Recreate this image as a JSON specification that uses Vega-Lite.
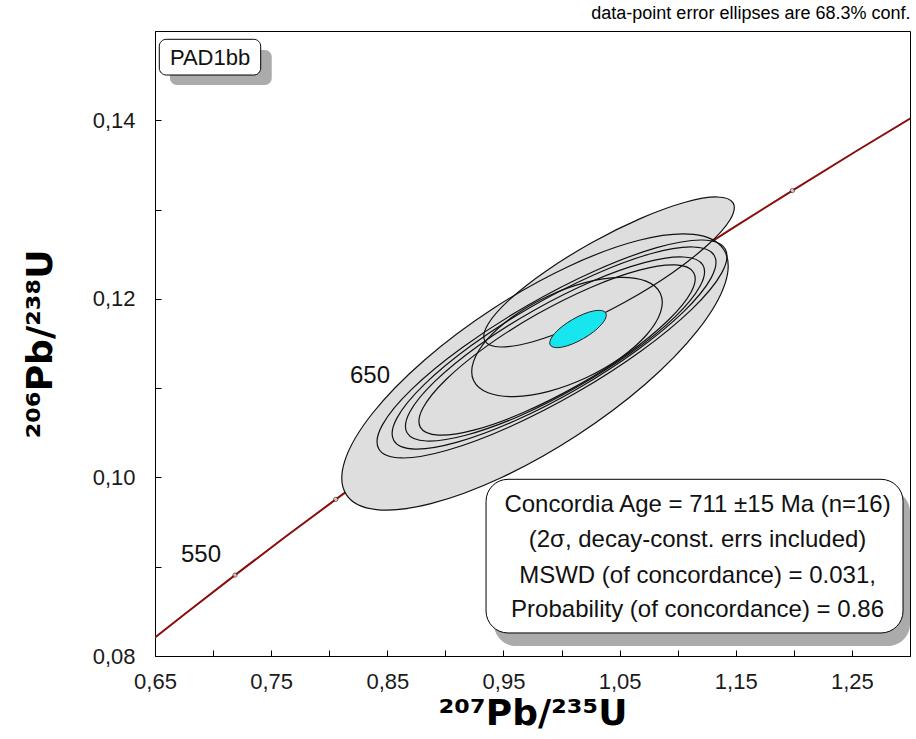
{
  "$schema": "https://vega.github.io/schema/vega-lite/v6.json",
  "width": 755,
  "height": 625,
  "autosize": {"type": "none"},
  "padding": {"left": 155, "top": 31, "right": 6, "bottom": 83},
  "background": "white",
  "title": {"text": "data-point error ellipses are 68.3% conf.", "anchor": "end", "fontSize": 18, "font": "Liberation Sans", "fontWeight": "normal", "color": "black", "offset": 8},
  "config": {
    "view": {"stroke": "black", "strokeWidth": 1},
    "axis": {"grid": false, "domainColor": "black", "tickColor": "black", "labelFont": "Liberation Sans", "labelFontSize": 22, "labelColor": "#1a1a1a", "titleFont": "DejaVu Sans", "titleFontSize": 36, "titleFontWeight": "bold", "titleColor": "black"}
  },
  "datasets": {
    "concordia": [
      {"age": 500, "x": 0.63628, "y": 0.08065},
      {"age": 525, "x": 0.67707, "y": 0.08485},
      {"age": 550, "x": 0.71887, "y": 0.08906},
      {"age": 575, "x": 0.76172, "y": 0.09330},
      {"age": 600, "x": 0.80563, "y": 0.09754},
      {"age": 625, "x": 0.85064, "y": 0.10181},
      {"age": 650, "x": 0.89677, "y": 0.10609},
      {"age": 675, "x": 0.94406, "y": 0.11039},
      {"age": 700, "x": 0.99251, "y": 0.11470},
      {"age": 725, "x": 1.04219, "y": 0.11903},
      {"age": 750, "x": 1.09308, "y": 0.12338},
      {"age": 775, "x": 1.14525, "y": 0.12775},
      {"age": 800, "x": 1.19873, "y": 0.13213},
      {"age": 825, "x": 1.25353, "y": 0.13653},
      {"age": 850, "x": 1.30972, "y": 0.14094}
    ],
    "agelabels": [
      {"lab": "550", "x": 0.6896, "y": 0.09131},
      {"lab": "650", "x": 0.8351, "y": 0.11136}
    ],
    "ellipses": [
      {"id": "E1", "k": 0, "x": 1.1396, "y": 0.12553},
      {"id": "E1", "k": 1, "x": 1.1409, "y": 0.12176},
      {"id": "E1", "k": 2, "x": 1.1172, "y": 0.11646},
      {"id": "E1", "k": 3, "x": 1.0723, "y": 0.11046},
      {"id": "E1", "k": 4, "x": 1.0128, "y": 0.10467},
      {"id": "E1", "k": 5, "x": 0.9479, "y": 0.09996},
      {"id": "E1", "k": 6, "x": 0.8875, "y": 0.09706},
      {"id": "E1", "k": 7, "x": 0.8407, "y": 0.09640},
      {"id": "E1", "k": 8, "x": 0.8147, "y": 0.09808},
      {"id": "E1", "k": 9, "x": 0.8134, "y": 0.10186},
      {"id": "E1", "k": 10, "x": 0.8371, "y": 0.10716},
      {"id": "E1", "k": 11, "x": 0.8821, "y": 0.11316},
      {"id": "E1", "k": 12, "x": 0.9415, "y": 0.11895},
      {"id": "E1", "k": 13, "x": 1.0064, "y": 0.12366},
      {"id": "E1", "k": 14, "x": 1.0668, "y": 0.12656},
      {"id": "E1", "k": 15, "x": 1.1136, "y": 0.12722},
      {"id": "N1", "k": 0, "x": 1.1409, "y": 0.12558},
      {"id": "N1", "k": 1, "x": 1.1378, "y": 0.12288},
      {"id": "N1", "k": 2, "x": 1.1125, "y": 0.11888},
      {"id": "N1", "k": 3, "x": 1.0688, "y": 0.11419},
      {"id": "N1", "k": 4, "x": 1.0133, "y": 0.10953},
      {"id": "N1", "k": 5, "x": 0.9546, "y": 0.10562},
      {"id": "N1", "k": 6, "x": 0.9016, "y": 0.10304},
      {"id": "N1", "k": 7, "x": 0.8623, "y": 0.10218},
      {"id": "N1", "k": 8, "x": 0.8427, "y": 0.10318},
      {"id": "N1", "k": 9, "x": 0.8458, "y": 0.10589},
      {"id": "N1", "k": 10, "x": 0.8711, "y": 0.10989},
      {"id": "N1", "k": 11, "x": 0.9149, "y": 0.11458},
      {"id": "N1", "k": 12, "x": 0.9703, "y": 0.11923},
      {"id": "N1", "k": 13, "x": 1.0290, "y": 0.12315},
      {"id": "N1", "k": 14, "x": 1.0820, "y": 0.12573},
      {"id": "N1", "k": 15, "x": 1.1213, "y": 0.12659},
      {"id": "N2", "k": 0, "x": 1.1315, "y": 0.12486},
      {"id": "N2", "k": 1, "x": 1.1287, "y": 0.12232},
      {"id": "N2", "k": 2, "x": 1.1054, "y": 0.11860},
      {"id": "N2", "k": 3, "x": 1.0650, "y": 0.11425},
      {"id": "N2", "k": 4, "x": 1.0138, "y": 0.10994},
      {"id": "N2", "k": 5, "x": 0.9594, "y": 0.10632},
      {"id": "N2", "k": 6, "x": 0.9103, "y": 0.10395},
      {"id": "N2", "k": 7, "x": 0.8738, "y": 0.10318},
      {"id": "N2", "k": 8, "x": 0.8556, "y": 0.10414},
      {"id": "N2", "k": 9, "x": 0.8584, "y": 0.10667},
      {"id": "N2", "k": 10, "x": 0.8817, "y": 0.11039},
      {"id": "N2", "k": 11, "x": 0.9220, "y": 0.11474},
      {"id": "N2", "k": 12, "x": 0.9733, "y": 0.11906},
      {"id": "N2", "k": 13, "x": 1.0276, "y": 0.12267},
      {"id": "N2", "k": 14, "x": 1.0767, "y": 0.12505},
      {"id": "N2", "k": 15, "x": 1.1132, "y": 0.12581},
      {"id": "N3", "k": 0, "x": 1.1218, "y": 0.12376},
      {"id": "N3", "k": 1, "x": 1.1192, "y": 0.12141},
      {"id": "N3", "k": 2, "x": 1.0977, "y": 0.11798},
      {"id": "N3", "k": 3, "x": 1.0604, "y": 0.11401},
      {"id": "N3", "k": 4, "x": 1.0130, "y": 0.11010},
      {"id": "N3", "k": 5, "x": 0.9629, "y": 0.10683},
      {"id": "N3", "k": 6, "x": 0.9175, "y": 0.10472},
      {"id": "N3", "k": 7, "x": 0.8838, "y": 0.10408},
      {"id": "N3", "k": 8, "x": 0.8670, "y": 0.10501},
      {"id": "N3", "k": 9, "x": 0.8695, "y": 0.10736},
      {"id": "N3", "k": 10, "x": 0.8911, "y": 0.11079},
      {"id": "N3", "k": 11, "x": 0.9284, "y": 0.11476},
      {"id": "N3", "k": 12, "x": 0.9757, "y": 0.11867},
      {"id": "N3", "k": 13, "x": 1.0259, "y": 0.12194},
      {"id": "N3", "k": 14, "x": 1.0713, "y": 0.12405},
      {"id": "N3", "k": 15, "x": 1.1049, "y": 0.12469},
      {"id": "N4", "k": 0, "x": 1.1138, "y": 0.12293},
      {"id": "N4", "k": 1, "x": 1.1115, "y": 0.12074},
      {"id": "N4", "k": 2, "x": 1.0916, "y": 0.11757},
      {"id": "N4", "k": 3, "x": 1.0572, "y": 0.11389},
      {"id": "N4", "k": 4, "x": 1.0135, "y": 0.11028},
      {"id": "N4", "k": 5, "x": 0.9671, "y": 0.10727},
      {"id": "N4", "k": 6, "x": 0.9252, "y": 0.10532},
      {"id": "N4", "k": 7, "x": 0.8941, "y": 0.10474},
      {"id": "N4", "k": 8, "x": 0.8785, "y": 0.10561},
      {"id": "N4", "k": 9, "x": 0.8808, "y": 0.10780},
      {"id": "N4", "k": 10, "x": 0.9006, "y": 0.11097},
      {"id": "N4", "k": 11, "x": 0.9350, "y": 0.11465},
      {"id": "N4", "k": 12, "x": 0.9787, "y": 0.11827},
      {"id": "N4", "k": 13, "x": 1.0251, "y": 0.12128},
      {"id": "N4", "k": 14, "x": 1.0670, "y": 0.12322},
      {"id": "N4", "k": 15, "x": 1.0982, "y": 0.12380},
      {"id": "T", "k": 0, "x": 1.1478, "y": 0.13072},
      {"id": "T", "k": 1, "x": 1.1451, "y": 0.12886},
      {"id": "T", "k": 2, "x": 1.1265, "y": 0.12611},
      {"id": "T", "k": 3, "x": 1.0949, "y": 0.12288},
      {"id": "T", "k": 4, "x": 1.0551, "y": 0.11968},
      {"id": "T", "k": 5, "x": 1.0131, "y": 0.11698},
      {"id": "T", "k": 6, "x": 0.9753, "y": 0.11520},
      {"id": "T", "k": 7, "x": 0.9475, "y": 0.11461},
      {"id": "T", "k": 8, "x": 0.9340, "y": 0.11530},
      {"id": "T", "k": 9, "x": 0.9367, "y": 0.11716},
      {"id": "T", "k": 10, "x": 0.9552, "y": 0.11991},
      {"id": "T", "k": 11, "x": 0.9868, "y": 0.12313},
      {"id": "T", "k": 12, "x": 1.0267, "y": 0.12634},
      {"id": "T", "k": 13, "x": 1.0687, "y": 0.12904},
      {"id": "T", "k": 14, "x": 1.1064, "y": 0.13082},
      {"id": "T", "k": 15, "x": 1.1342, "y": 0.13141},
      {"id": "C", "k": 0, "x": 1.0851, "y": 0.12060},
      {"id": "C", "k": 1, "x": 1.0852, "y": 0.11848},
      {"id": "C", "k": 2, "x": 1.0731, "y": 0.11595},
      {"id": "C", "k": 3, "x": 1.0506, "y": 0.11337},
      {"id": "C", "k": 4, "x": 1.0211, "y": 0.11116},
      {"id": "C", "k": 5, "x": 0.9891, "y": 0.10964},
      {"id": "C", "k": 6, "x": 0.9595, "y": 0.10905},
      {"id": "C", "k": 7, "x": 0.9367, "y": 0.10948},
      {"id": "C", "k": 8, "x": 0.9243, "y": 0.11085},
      {"id": "C", "k": 9, "x": 0.9242, "y": 0.11297},
      {"id": "C", "k": 10, "x": 0.9363, "y": 0.11551},
      {"id": "C", "k": 11, "x": 0.9588, "y": 0.11808},
      {"id": "C", "k": 12, "x": 0.9883, "y": 0.12030},
      {"id": "C", "k": 13, "x": 1.0203, "y": 0.12181},
      {"id": "C", "k": 14, "x": 1.0500, "y": 0.12240},
      {"id": "C", "k": 15, "x": 1.0727, "y": 0.12198}
    ],
    "agefit": [
      {"k": 0, "x": 1.03804, "y": 0.11842},
      {"k": 1, "x": 1.03804, "y": 0.11787},
      {"k": 2, "x": 1.03440, "y": 0.11714},
      {"k": 3, "x": 1.02769, "y": 0.11632},
      {"k": 4, "x": 1.01892, "y": 0.11556},
      {"k": 5, "x": 1.00942, "y": 0.11495},
      {"k": 6, "x": 1.00066, "y": 0.11460},
      {"k": 7, "x": 0.99395, "y": 0.11456},
      {"k": 8, "x": 0.99032, "y": 0.11483},
      {"k": 9, "x": 0.99032, "y": 0.11537},
      {"k": 10, "x": 0.99396, "y": 0.11611},
      {"k": 11, "x": 1.00067, "y": 0.11692},
      {"k": 12, "x": 1.00944, "y": 0.11769},
      {"k": 13, "x": 1.01894, "y": 0.11830},
      {"k": 14, "x": 1.02770, "y": 0.11865},
      {"k": 15, "x": 1.03441, "y": 0.11869}
    ],
    "samplebox": [
      {"name": "PAD1bb", "x": 0.6537, "x2": 0.7410, "y": 0.14907, "y2": 0.14507, "sx": 0.6629, "sx2": 0.7505, "sy": 0.14787, "sy2": 0.14395, "tx": 0.6974, "ty": 0.14698}
    ],
    "statsbox": [
      {"x": 0.9350, "x2": 1.2940, "y": 0.09979, "y2": 0.08258, "sx": 0.9419, "sx2": 1.3000, "sy": 0.09859, "sy2": 0.08112}
    ],
    "stats": [
      {"line": "Concordia Age = 711 ±15 Ma (n=16)", "x": 1.1171, "y": 0.09616},
      {"line": "(2σ, decay-const. errs included)", "x": 1.1171, "y": 0.09221},
      {"line": "MSWD (of concordance) = 0.031,", "x": 1.1171, "y": 0.08823},
      {"line": "Probability (of concordance) = 0.86", "x": 1.1171, "y": 0.08437}
    ]
  },
  "layer": [
    {
      "data": {"name": "concordia"},
      "mark": {"type": "line", "color": "#8a0d0d", "strokeWidth": 2, "clip": true},
      "encoding": {
        "x": {"field": "x", "type": "quantitative", "scale": {"domain": [0.65, 1.3], "nice": false, "zero": false},
          "axis": {"title": "²⁰⁷Pb/²³⁵U", "values": [0.65, 0.7, 0.75, 0.8, 0.85, 0.9, 0.95, 1.0, 1.05, 1.1, 1.15, 1.2, 1.25, 1.3],
            "labelExpr": "round(datum.value*100)%10==5 ? replace(format(datum.value,'.2f'),'.',',') : ''",
            "tickSize": -6, "labelPadding": 21, "labelFlush": false, "titlePadding": 4}},
        "y": {"field": "y", "type": "quantitative", "scale": {"domain": [0.08, 0.15], "nice": false, "zero": false},
          "axis": {"title": "²⁰⁶Pb/²³⁸U", "values": [0.08, 0.09, 0.1, 0.11, 0.12, 0.13, 0.14, 0.15],
            "labelExpr": "round(datum.value*100)%2==0 && datum.value < 0.145 ? replace(format(datum.value,'.2f'),'.',',') : ''",
            "tickSize": -6, "labelPadding": 26, "labelFlush": false, "titlePadding": 33}},
        "order": {"field": "age", "type": "quantitative"}
      }
    },
    {
      "data": {"name": "concordia"},
      "transform": [{"filter": "datum.age % 50 == 0 && datum.age >= 550 && datum.age <= 800"}],
      "mark": {"type": "point", "shape": "circle", "size": 18, "filled": true, "fill": "white", "stroke": "#222", "strokeWidth": 1},
      "encoding": {"x": {"field": "x", "type": "quantitative"}, "y": {"field": "y", "type": "quantitative"}}
    },
    {
      "data": {"name": "agelabels"},
      "mark": {"type": "text", "font": "Liberation Sans", "fontSize": 24, "color": "#111", "align": "center", "baseline": "middle"},
      "encoding": {"x": {"field": "x", "type": "quantitative"}, "y": {"field": "y", "type": "quantitative"}, "text": {"field": "lab"}}
    },
    {
      "data": {"name": "ellipses"},
      "mark": {"type": "line", "interpolate": "cardinal-closed", "fill": "#dedede", "strokeWidth": 0, "strokeOpacity": 0},
      "encoding": {"x": {"field": "x", "type": "quantitative"}, "y": {"field": "y", "type": "quantitative"}, "detail": {"field": "id"}, "order": {"field": "k", "type": "quantitative"}}
    },
    {
      "data": {"name": "ellipses"},
      "mark": {"type": "line", "interpolate": "cardinal-closed", "color": "#111", "strokeWidth": 1.2},
      "encoding": {"x": {"field": "x", "type": "quantitative"}, "y": {"field": "y", "type": "quantitative"}, "detail": {"field": "id"}, "order": {"field": "k", "type": "quantitative"}}
    },
    {
      "data": {"name": "agefit"},
      "mark": {"type": "line", "interpolate": "cardinal-closed", "fill": "#18e6ee", "color": "#222", "strokeWidth": 1},
      "encoding": {"x": {"field": "x", "type": "quantitative"}, "y": {"field": "y", "type": "quantitative"}, "order": {"field": "k", "type": "quantitative"}}
    },
    {
      "data": {"name": "samplebox"},
      "mark": {"type": "rect", "fill": "#ababab", "cornerRadius": 7},
      "encoding": {"x": {"field": "sx", "type": "quantitative"}, "x2": {"field": "sx2"}, "y": {"field": "sy", "type": "quantitative"}, "y2": {"field": "sy2"}}
    },
    {
      "data": {"name": "samplebox"},
      "mark": {"type": "rect", "fill": "white", "stroke": "black", "strokeWidth": 1, "cornerRadius": 7},
      "encoding": {"x": {"field": "x", "type": "quantitative"}, "x2": {"field": "x2"}, "y": {"field": "y", "type": "quantitative"}, "y2": {"field": "y2"}}
    },
    {
      "data": {"name": "samplebox"},
      "mark": {"type": "text", "font": "Liberation Sans", "fontSize": 22, "color": "#111", "align": "center", "baseline": "middle"},
      "encoding": {"x": {"field": "tx", "type": "quantitative"}, "y": {"field": "ty", "type": "quantitative"}, "text": {"field": "name"}}
    },
    {
      "data": {"name": "statsbox"},
      "mark": {"type": "rect", "fill": "#ababab", "cornerRadius": 22, "clip": true},
      "encoding": {"x": {"field": "sx", "type": "quantitative"}, "x2": {"field": "sx2"}, "y": {"field": "sy", "type": "quantitative"}, "y2": {"field": "sy2"}}
    },
    {
      "data": {"name": "statsbox"},
      "mark": {"type": "rect", "fill": "white", "stroke": "black", "strokeWidth": 1, "cornerRadius": 22},
      "encoding": {"x": {"field": "x", "type": "quantitative"}, "x2": {"field": "x2"}, "y": {"field": "y", "type": "quantitative"}, "y2": {"field": "y2"}}
    },
    {
      "data": {"name": "stats"},
      "mark": {"type": "text", "font": "Liberation Sans", "fontSize": 24, "color": "#111", "align": "center", "baseline": "alphabetic"},
      "encoding": {"x": {"field": "x", "type": "quantitative"}, "y": {"field": "y", "type": "quantitative"}, "text": {"field": "line"}}
    }
  ]
}
